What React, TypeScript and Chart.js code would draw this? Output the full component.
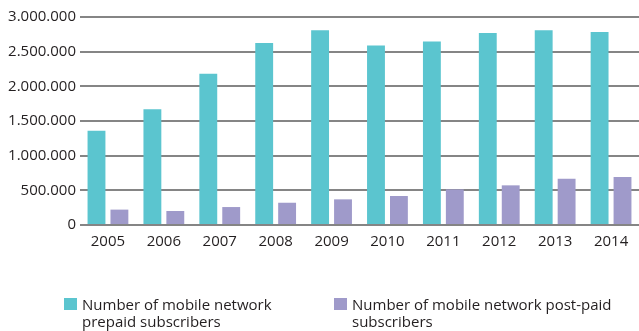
import React, { useEffect, useRef } from "react";
import { Chart, registerables } from "chart.js";

Chart.register(...registerables);

const years = ["2005", "2006", "2007", "2008", "2009", "2010", "2011", "2012", "2013", "2014"];
const prepaid = [1360000, 1670000, 2180000, 2625000, 2810000, 2590000, 2645000, 2770000, 2810000, 2785000];
const postpaid = [222000, 202000, 259000, 321000, 370000, 418000, 514000, 572000, 667000, 692000];
const prepaidLabel = ["Number of mobile network", "prepaid subscribers"];
const postpaidLabel = ["Number of mobile network post-paid", "subscribers"];
const yTicks = [0, 500000, 1000000, 1500000, 2000000, 2500000, 3000000];

const TEAL = "#5bc5cf";
const PURPLE = "#9f9aca";
const FONT = "'Open Sans', sans-serif";

const fmt = (v: number) => String(Math.round(v)).replace(/\B(?=(\d{3})+(?!\d))/g, ".");

const legendPlugin = {
  id: "customLegend",
  afterDraw(chart: any) {
    const ctx = chart.ctx;
    const items = [
      { color: TEAL, lines: prepaidLabel, x: 64 },
      { color: PURPLE, lines: postpaidLabel, x: 334 },
    ];
    ctx.save();
    ctx.font = `15px ${FONT}`;
    ctx.textBaseline = "alphabetic";
    ctx.textAlign = "left";
    items.forEach((it) => {
      ctx.fillStyle = it.color;
      ctx.fillRect(it.x, 298, 13, 12);
      ctx.fillStyle = "#231f20";
      it.lines.forEach((l, i) => ctx.fillText(l, it.x + 18, 310 + i * 17));
    });
    ctx.restore();
  },
};

export default function App() {
  const ref = useRef<HTMLCanvasElement>(null);
  useEffect(() => {
    document.body.style.margin = "0";
    const chart = new Chart(ref.current!, {
      type: "bar",
      data: {
        labels: years,
        datasets: [
          { label: prepaidLabel.join(" "), data: prepaid, backgroundColor: TEAL, categoryPercentage: 0.82, barPercentage: 0.78 },
          { label: postpaidLabel.join(" "), data: postpaid, backgroundColor: PURPLE, categoryPercentage: 0.82, barPercentage: 0.78 },
        ],
      },
      options: {
        responsive: false,
        animation: false,
        layout: { padding: { top: 17, right: 0, left: 0, bottom: 0 } },
        plugins: { legend: { display: false }, tooltip: { enabled: false } },
        scales: {
          x: {
            grid: { display: false, drawTicks: false },
            border: { display: false },
            ticks: { font: { family: FONT, size: 15 }, color: "#231f20", padding: 8, maxRotation: 0 },
            afterFit(scale: any) { scale.height = 106; },
          },
          y: {
            min: 0,
            max: 3000000,
            afterBuildTicks(scale: any) { scale.ticks = yTicks.map((v) => ({ value: v })); },
            grid: { color: "#858585", lineWidth: 2, drawTicks: false },
            border: { display: false },
            ticks: { font: { family: FONT, size: 15 }, color: "#231f20", padding: 4, callback: (v: any) => fmt(Number(v)) },
            afterFit(scale: any) { scale.width = 80; },
          },
        },
      },
      plugins: [legendPlugin],
    });
    return () => chart.destroy();
  }, []);
  return <canvas ref={ref} width={639} height={331} style={{ display: "block" }} />;
}
